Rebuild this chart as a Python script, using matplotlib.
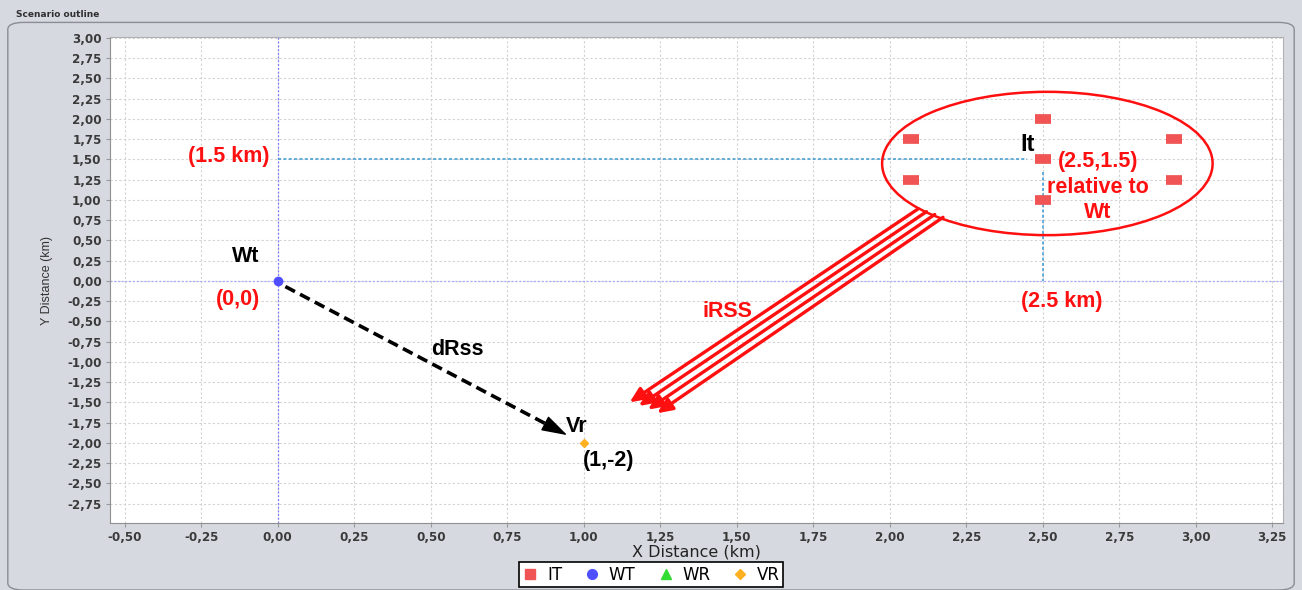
import matplotlib
matplotlib.use("Agg")
import matplotlib.pyplot as plt
from matplotlib.patches import Ellipse, FancyBboxPatch
from matplotlib.lines import Line2D

# scenario points (km)
it_x = [2.5, 2.5, 2.5, 2.07, 2.07, 2.93, 2.93]
it_y = [2.0, 1.5, 1.0, 1.75, 1.25, 1.75, 1.25]
wt_x = [0.0]
wt_y = [0.0]
wr_x = []
wr_y = []
vr_x = [1.0]
vr_y = [-2.0]

x_ticks = [i * 0.25 for i in range(-2, 14)]
y_ticks = [i * 0.25 for i in range(-11, 13)]

# dRss arrow (Wt -> Vr), iRSS arrows (It -> Vr)
drss_start = (0.025, -0.07)
drss_end = (0.946, -1.905)
irss_start = [(2.093, 0.89), (2.12, 0.855), (2.147, 0.82), (2.174, 0.785)]
irss_end = [(1.15, -1.50), (1.18, -1.545), (1.21, -1.59), (1.24, -1.635)]

bg = "#d6d9e0"
fig = plt.figure(figsize=(13.02, 5.90), dpi=100, facecolor=bg)

# panel frame
panel = FancyBboxPatch((0.006, 0.0), 0.988, 0.962, boxstyle="round,pad=0,rounding_size=0.012",
                       transform=fig.transFigure, facecolor=bg, edgecolor="#8a8d94", lw=1.0,
                       zorder=-5)
fig.patches.append(panel)
fig.text(0.012, 0.976, "Scenario outline", fontsize=6.5, fontweight="bold",
         color="#303030", va="center", family="DejaVu Sans")

ax = fig.add_axes([0.0845, 0.1136, 0.9009, 0.8234], zorder=2)
ax.set_facecolor("white")
ax.set_xlim(-0.548, 3.285)
ax.set_ylim(-2.99, 3.01)
ax.set_xticks(x_ticks)
ax.set_yticks(y_ticks)
ax.set_xticklabels([f"{v:.2f}".replace(".", ",") for v in x_ticks])
ax.set_yticklabels([f"{v:.2f}".replace(".", ",") for v in y_ticks])
ax.tick_params(labelsize=8.6, colors="#3a3a3a", length=3, color="#999999", width=0.8, pad=3)
for lbl in ax.get_xticklabels() + ax.get_yticklabels():
    lbl.set_fontweight("bold")
ax.grid(True, color="#d2d2d2", linestyle=(0, (2, 2)), lw=0.8)
ax.set_axisbelow(True)
for s in ax.spines.values():
    s.set_color("#b0b0b0")
ax.spines["left"].set_color("#909090")
ax.spines["bottom"].set_color("#909090")

ax.set_xlabel("X Distance (km)", fontsize=11.5, family="DejaVu Sans", color="#222222", labelpad=0)
ax.set_ylabel("Y Distance (km)", fontsize=9, family="Liberation Sans", color="#333333", labelpad=10)

# crosshairs
ax.axvline(0, color="#7a7aff", lw=0.9, linestyle=(0, (1.5, 1.5)), zorder=1)
ax.axhline(0, color="#a8a8ff", lw=0.9, linestyle=(0, (1.5, 1.5)), zorder=1)

# guide lines for It
ax.plot([0, 2.45], [1.5, 1.5], color="#3a9ad0", lw=1.1, linestyle=(0, (2, 1.5)), zorder=2)
ax.plot([2.5, 2.5], [1.35, 0.0], color="#3a9ad0", lw=1.1, linestyle=(0, (2, 1.5)), zorder=2)

# series
ax.plot(it_x, it_y, linestyle="none", marker="_", markersize=12, mew=7,
        color="#f05454", zorder=5)
ax.plot(wt_x, wt_y, linestyle="none", marker="o", markersize=6, color="#4f4fff", zorder=5)
ax.plot(vr_x, vr_y, linestyle="none", marker="D", markersize=4.5, color="#ffb020", zorder=5)

# ellipse around interferers
ax.add_patch(Ellipse((2.515, 1.45), 1.08, 1.77, fill=False, edgecolor="#ff0f0f", lw=1.8, zorder=4))

# dRss: dashed shaft plus a solid head
frac = 0.93
mid = (drss_start[0] + frac * (drss_end[0] - drss_start[0]),
       drss_start[1] + frac * (drss_end[1] - drss_start[1]))
ax.plot([drss_start[0], mid[0]], [drss_start[1], mid[1]], color="black", lw=2.6,
        linestyle=(0, (3, 1.6)), zorder=6)
ax.annotate("", xy=drss_end, xytext=mid,
            arrowprops=dict(arrowstyle="-|>,head_length=0.9,head_width=0.28", color="black",
                            lw=1.0, mutation_scale=18, shrinkA=0, shrinkB=0), zorder=6)
# iRSS arrows
for (x0, y0), (x1, y1) in zip(irss_start, irss_end):
    ax.annotate("", xy=(x1, y1), xytext=(x0, y0),
                arrowprops=dict(arrowstyle="-|>,head_length=0.9,head_width=0.4", color="#ff1010",
                                lw=2.4, shrinkA=0, shrinkB=0))

bold = dict(fontweight="bold", family="Liberation Sans", fontsize=15.5)
ax.text(-0.106, 0.30, "Wt", color="black", ha="center", va="center", **bold)
ax.text(-0.13, -0.235, "(0,0)", color="#ff1010", ha="center", va="center", **bold)
ax.text(0.587, -0.85, "dRss", color="black", ha="center", va="center", **bold)
ax.text(0.94, -1.80, "Vr", color="black", ha="left", va="center", **bold)
ax.text(1.08, -2.22, "(1,-2)", color="black", ha="center", va="center", **bold)
ax.text(1.47, -0.38, "iRSS", color="#ff1010", ha="center", va="center", **bold)
ax.text(2.449, 1.69, "It", color="black", ha="center", va="center", fontsize=17,
        fontweight="bold", family="Liberation Sans")
ax.text(2.681, 1.47, "(2.5,1.5)", color="#ff1010", ha="center", va="center", **bold)
ax.text(2.681, 1.15, "relative to", color="#ff1010", ha="center", va="center", **bold)
ax.text(2.681, 0.85, "Wt", color="#ff1010", ha="center", va="center", **bold)
ax.text(-0.159, 1.54, "(1.5 km)", color="#ff1010", ha="center", va="center", **bold)
ax.text(2.563, -0.26, "(2.5 km)", color="#ff1010", ha="center", va="center", **bold)

handles = [
    Line2D([], [], linestyle="none", marker="s", markersize=7, color="#f05454", label="IT"),
    Line2D([], [], linestyle="none", marker="o", markersize=7, color="#4f4fff", label="WT"),
    Line2D([], [], linestyle="none", marker="^", markersize=7, color="#33dd33", label="WR"),
    Line2D([], [], linestyle="none", marker="D", markersize=5, color="#ffb020", label="VR"),
]
leg = fig.legend(handles=handles, loc="center", bbox_to_anchor=(0.5, 0.026), ncol=4,
                 frameon=True, fancybox=False, handletextpad=0.5,
                 columnspacing=1.3, borderpad=0.2, handlelength=1.0,
                 prop=dict(family="DejaVu Sans", size=12))
leg.get_frame().set_edgecolor("black")
leg.get_frame().set_linewidth(1.2)
leg.get_frame().set_facecolor("white")
leg.get_frame().set_alpha(1)

fig.savefig("out.png", dpi=100, facecolor=bg)
